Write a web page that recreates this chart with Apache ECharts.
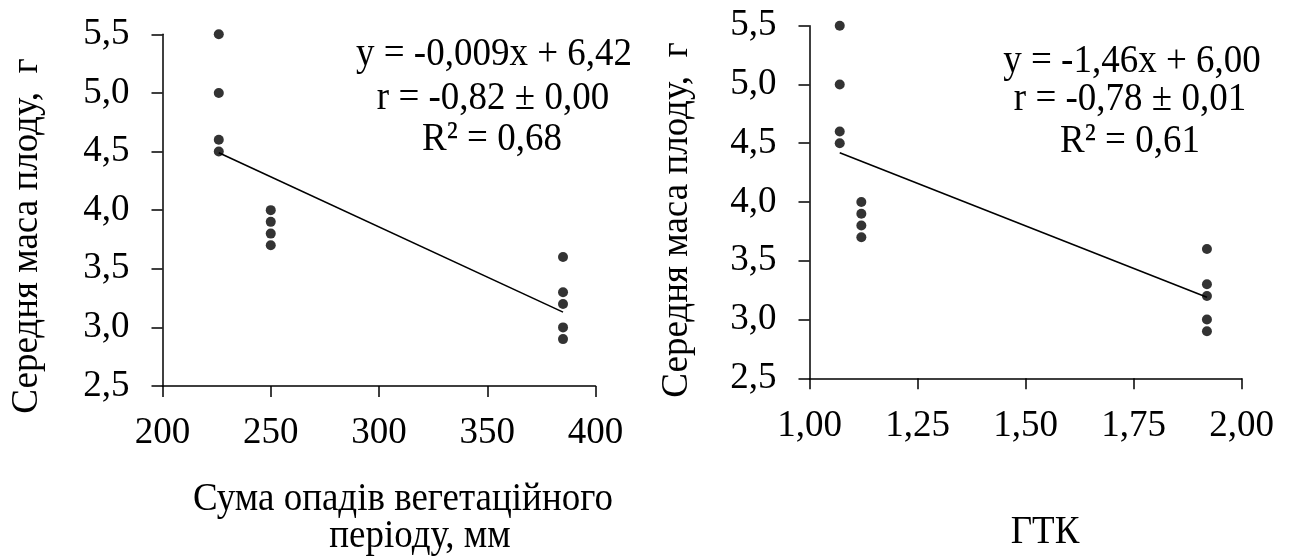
<!DOCTYPE html>
<html>
<head>
<meta charset="utf-8">
<script src="https://cdn.jsdelivr.net/npm/echarts@6/dist/echarts.min.js"></script>
<style>
html,body{margin:0;padding:0;background:#fff;}
#chart{width:1293px;height:557px;}
</style>
</head>
<body>
<div id="chart"></div>
<script>
// ---- data ----
const precipX = [226, 226, 226, 226, 250, 250, 250, 250, 385, 385, 385, 385, 385];
const gtkX    = [1.07, 1.07, 1.07, 1.07, 1.12, 1.12, 1.12, 1.12, 1.92, 1.92, 1.92, 1.92, 1.92];
const massY   = [5.5, 5.0, 4.6, 4.5, 4.0, 3.9, 3.8, 3.7, 3.6, 3.3, 3.2, 3.0, 2.9];
const trendLeftX  = [226, 385];
const trendLeftY  = [4.49, 3.13];
const trendRightX = [1.07, 1.92];
const trendRightY = [4.42, 3.19];
const yTickLabels      = ['2,5', '3,0', '3,5', '4,0', '4,5', '5,0', '5,5'];
const leftXTickLabels  = ['200', '250', '300', '350', '400'];
const rightXTickLabels = ['1,00', '1,25', '1,50', '1,75', '2,00'];
const yTitle = 'Середня маса плоду,  г';
const leftXTitle1 = 'Сума опадів вегетаційного';
const leftXTitle2 = 'періоду, мм';
const rightXTitle = 'ГТК';
const leftEq  = ['y = -0,009x + 6,42', 'r = -0,82 ± 0,00', 'R² = 0,68'];
const rightEq = ['y = -1,46x + 6,00', 'r = -0,78 ± 0,01', 'R² = 0,61'];

const FONT = '"Liberation Serif","Times New Roman",serif';
const FS = 37;
const pairs = (xs, ys) => xs.map((x, i) => [x, ys[i]]);

const axisLine = {show: true, lineStyle: {color: '#000', width: 1.5}};
const axisTick = {show: true, length: 11, lineStyle: {color: '#000', width: 1.5}};
const lbl = {color: '#000', fontSize: FS, fontFamily: FONT};

function xAxis(gi, min, max, interval, labels, margin) {
  return {
    type: 'value', gridIndex: gi, min: min, max: max, interval: interval,
    axisLine: axisLine, axisTick: axisTick, splitLine: {show: false},
    axisLabel: Object.assign({margin: margin,
      formatter: v => labels[Math.round((v - min) / interval)]}, lbl)
  };
}
function yAxis(gi) {
  return {
    type: 'value', gridIndex: gi, min: 2.5, max: 5.5, interval: 0.5,
    axisLine: axisLine, axisTick: axisTick, splitLine: {show: false},
    axisLabel: Object.assign({margin: 33,
      formatter: v => yTickLabels[Math.round((v - 2.5) / 0.5)]}, lbl)
  };
}
function txt(x, y, s, rot, sy) {
  return {type: 'text', x: x, y: y, rotation: rot || 0, scaleY: sy || 1,
    style: {text: s, fill: '#000', font: FS + 'px ' + FONT, align: 'center', verticalAlign: 'middle'}};
}

const chart = echarts.init(document.getElementById('chart'), null, {renderer: 'canvas'});
chart.setOption({
  animation: false,
  backgroundColor: '#fff',
  grid: [
    {left: 162.5, top: 34.3, width: 433, height: 351.7},
    {left: 809.5, top: 25.7, width: 432, height: 352.6}
  ],
  xAxis: [
    xAxis(0, 200, 400, 50, leftXTickLabels, 29),
    xAxis(1, 1, 2, 0.25, rightXTickLabels, 29)
  ],
  yAxis: [yAxis(0), yAxis(1)],
  series: [
    {type: 'scatter', xAxisIndex: 0, yAxisIndex: 0, data: pairs(precipX, massY),
     symbol: 'circle', symbolSize: 10, itemStyle: {color: '#000'}, emphasis: {disabled: true}},
    {type: 'line', xAxisIndex: 0, yAxisIndex: 0, data: pairs(trendLeftX, trendLeftY),
     symbol: 'none', lineStyle: {color: '#000', width: 1.6}, emphasis: {disabled: true}},
    {type: 'scatter', xAxisIndex: 1, yAxisIndex: 1, data: pairs(gtkX, massY),
     symbol: 'circle', symbolSize: 10, itemStyle: {color: '#000'}, emphasis: {disabled: true}},
    {type: 'line', xAxisIndex: 1, yAxisIndex: 1, data: pairs(trendRightX, trendRightY),
     symbol: 'none', lineStyle: {color: '#000', width: 1.6}, emphasis: {disabled: true}}
  ],
  graphic: [
    txt(27, 236, yTitle, Math.PI / 2),
    txt(677, 220, yTitle, Math.PI / 2),
    txt(403, 499, leftXTitle1, 0, 1.1),
    txt(420, 536, leftXTitle2, 0, 1.1),
    txt(1045, 532, rightXTitle, 0, 1.1),
    txt(494, 54, leftEq[0], 0, 1.1),
    txt(493, 98, leftEq[1], 0, 1.1),
    txt(492, 139.5, leftEq[2], 0, 1.1),
    txt(1132, 61, rightEq[0], 0, 1.1),
    txt(1130, 99.5, rightEq[1], 0, 1.1),
    txt(1130, 141, rightEq[2], 0, 1.1)
  ]
});
</script>
</body>
</html>
